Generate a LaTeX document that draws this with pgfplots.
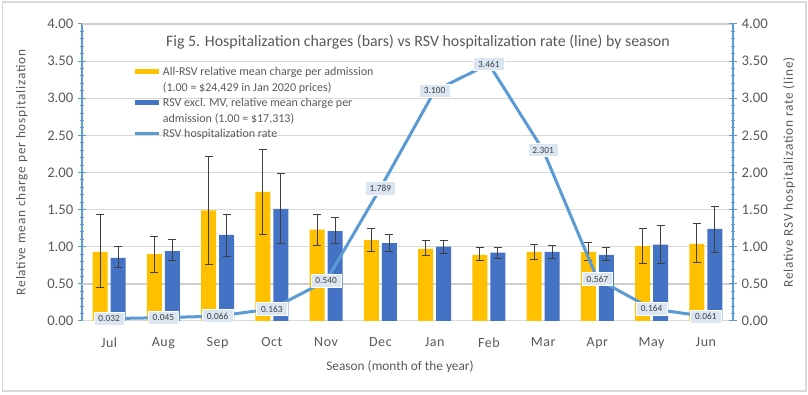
\documentclass[border=0pt]{standalone}
\usepackage{fontspec}
\setmainfont{Carlito}
\usepackage{pgfplots}
\pgfplotsset{compat=1.18}
\definecolor{cyel}{HTML}{FFC000}
\definecolor{cblu}{HTML}{4472C4}
\definecolor{cline}{HTML}{5B9BD5}
\definecolor{cgrid}{HTML}{D9D9D9}
\definecolor{cgridd}{HTML}{CFCFCF}
\definecolor{ctxt}{HTML}{595959}
\definecolor{cerr}{HTML}{404040}
\definecolor{clab}{HTML}{DCE6F2}
\definecolor{cborder}{HTML}{D9D9D9}
\begin{document}
\begin{tikzpicture}[x=1pt,y=1pt]
% page frame (808x395 px, 1px = 0.75pt)
\path (0,0) rectangle (606,296.25);
\draw[cborder, line width=1.2pt] (1.8,2.8) rectangle (604.5,294.6);
\begin{axis}[
  at={(61.5pt,55.5pt)}, anchor=south west,
  scale only axis, width=488.25pt, height=222.75pt,
  xmin=-0.5, xmax=11.5, ymin=0, ymax=4,
  ybar, bar width=11.25pt,
  axis x line*=bottom, axis y line*=left,
  x axis line style={cgrid, line width=0.75pt, -},
  y axis line style={cline, line width=0.9pt, -},
  xtick={0,...,11},
  xticklabels={Jul,Aug,Sep,Oct,Nov,Dec,Jan,Feb,Mar,Apr,May,Jun},
  xtick style={draw=none},
  xticklabel style={yshift=-6pt, font=\fontsize{10.5}{12}\selectfont\addfontfeature{LetterSpace=4}},
  ytick={0,0.5,...,4},
  minor y tick num=4,
  tick align=center,
  ytick style={cline, line width=0.75pt},
  major tick length=6pt, minor tick length=3pt,
  ymajorgrids, grid style={cgrid, line width=0.75pt},
  extra y ticks={0.5,4}, extra y tick labels={},
  extra y tick style={grid style={cgridd, line width=1.6pt}, major tick length=0pt},
  yticklabel style={/pgf/number format/.cd, fixed, fixed zerofill, precision=2},
  /pgf/number format/assume math mode=true,
  ticklabel style={font=\fontsize{11}{12}\selectfont, text=ctxt},
  legend cell align=left,
  legend style={at={(0.0783,0.862)}, anchor=north west, draw=none, fill=none,
    inner sep=0pt, column sep=1pt, row sep=0pt,
    cells={anchor=base west},
    nodes={inner sep=1pt, text height=7pt, text depth=2.6pt, text=ctxt,
      font=\fontsize{9}{11}\selectfont}},
  error bars/y dir=both, error bars/y explicit,
  error bars/error bar style={cerr, line width=0.7pt},
  error bars/error mark options={cerr, line width=0.7pt, mark size=3pt, rotate=90},
]
\addplot[fill=cyel, draw=none, bar shift=-6.75pt,
  legend image code/.code={\fill[cyel] (0pt,1.1pt) rectangle (18pt,5.1pt);}]
 coordinates {
  (0,0.93) += (0,0.50) -= (0,0.48)
  (1,0.90) += (0,0.24) -= (0,0.24)
  (2,1.49) += (0,0.72) -= (0,0.73)
  (3,1.74) += (0,0.57) -= (0,0.58)
  (4,1.23) += (0,0.21) -= (0,0.21)
  (5,1.09) += (0,0.15) -= (0,0.16)
  (6,0.97) += (0,0.11) -= (0,0.09)
  (7,0.89) += (0,0.10) -= (0,0.07)
  (8,0.93) += (0,0.10) -= (0,0.10)
  (9,0.93) += (0,0.13) -= (0,0.12)
  (10,1.01) += (0,0.23) -= (0,0.23)
  (11,1.04) += (0,0.27) -= (0,0.25)
 };
\addlegendentry{All-RSV relative mean charge per admission}
\addlegendimage{empty legend}
\addlegendentry{(1.00 = \$24,429 in Jan 2020 prices)}
\addplot[fill=cblu, draw=none, bar shift=6.75pt,
  legend image code/.code={\fill[cblu] (0pt,1.1pt) rectangle (18pt,5.1pt);}]
 coordinates {
  (0,0.85) += (0,0.16) -= (0,0.13)
  (1,0.94) += (0,0.16) -= (0,0.13)
  (2,1.16) += (0,0.28) -= (0,0.29)
  (3,1.51) += (0,0.48) -= (0,0.47)
  (4,1.21) += (0,0.19) -= (0,0.16)
  (5,1.05) += (0,0.12) -= (0,0.12)
  (6,1.00) += (0,0.08) -= (0,0.09)
  (7,0.92) += (0,0.07) -= (0,0.08)
  (8,0.93) += (0,0.09) -= (0,0.09)
  (9,0.89) += (0,0.10) -= (0,0.07)
  (10,1.03) += (0,0.26) -= (0,0.25)
  (11,1.24) += (0,0.30) -= (0,0.32)
 };
\addlegendentry{RSV excl. MV, relative mean charge per}
\addlegendimage{empty legend}
\addlegendentry{admission (1.00 = \$17,313)}
\addlegendimage{legend image code/.code={\draw[cline, line width=2.25pt] (0pt,3.1pt) -- (18pt,3.1pt);}}
\addlegendentry{RSV hospitalization rate}
\end{axis}
\begin{axis}[
  at={(61.5pt,55.5pt)}, anchor=south west,
  scale only axis, width=488.25pt, height=222.75pt,
  xmin=-0.5, xmax=11.5, ymin=0, ymax=4,
  axis x line=none, axis y line*=right,
  y axis line style={cline, line width=0.9pt, -},
  ytick={0,0.5,...,4}, minor y tick num=4,
  tick align=center,
  ytick style={cline, line width=0.75pt},
  major tick length=6pt, minor tick length=3pt,
  yticklabel style={/pgf/number format/.cd, fixed, fixed zerofill, precision=2},
  /pgf/number format/assume math mode=true,
  ticklabel style={font=\fontsize{11}{12}\selectfont, text=ctxt},
  clip=false,
]
\addplot[cline, line width=2.25pt, mark=none,
  nodes near coords={\pgfmathprintnumber[fixed,fixed zerofill,precision=3]{\pgfplotspointmeta}},
  every node near coord/.style={anchor=center, fill=clab, draw=white, line width=0.4pt,
     text=cerr, font=\fontsize{7}{8}\selectfont, inner xsep=3.5pt, inner ysep=2.6pt}]
 coordinates {
  (0,0.032) (1,0.045) (2,0.066) (3,0.163) (4,0.540) (5,1.789)
  (6,3.100) (7,3.461) (8,2.301) (9,0.567) (10,0.164) (11,0.061)
 };
\end{axis}
\node[text=ctxt, font=\fontsize{11.9}{14}\selectfont] at (313.5,264.75)
  {Fig 5. Hospitalization charges (bars) vs RSV hospitalization rate (line) by season};
\node[text=ctxt, font=\fontsize{10}{11}\selectfont] at (300,21)
  {Season (month of the year)};
\node[text=ctxt, font=\fontsize{10}{11}\selectfont\addfontfeature{LetterSpace=6}, rotate=90] at (16.5,166.9)
  {Relative mean charge per hospitalization};
\node[text=ctxt, font=\fontsize{10}{11}\selectfont\addfontfeature{LetterSpace=6}, rotate=90] at (591.75,166.9)
  {Relative RSV hospitalization rate (line)};
\end{tikzpicture}
\end{document}
